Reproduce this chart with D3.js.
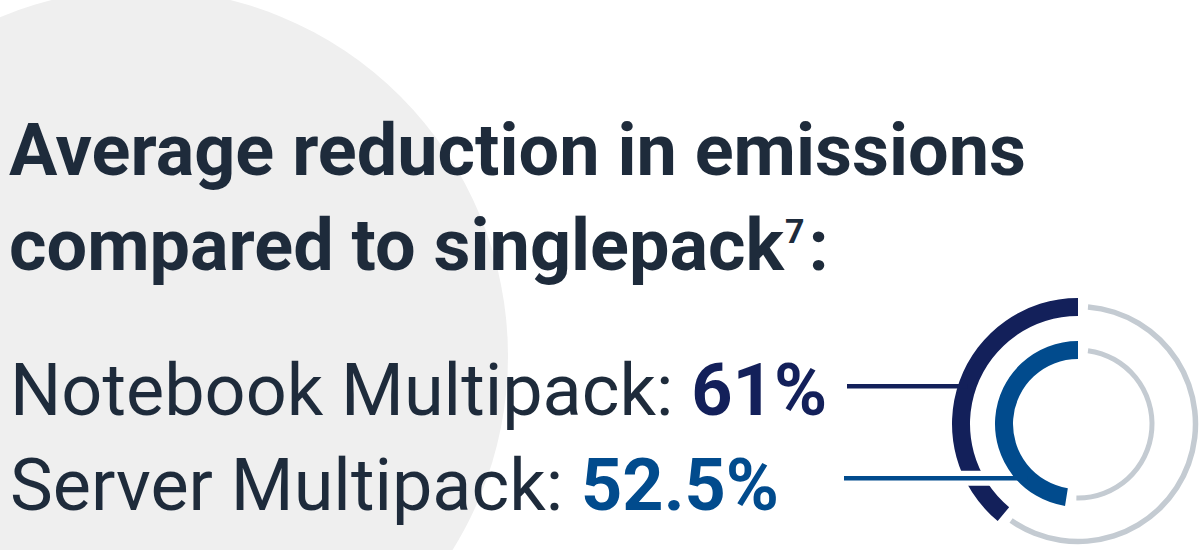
<!DOCTYPE html>
<html>
<head>
<meta charset="utf-8">
<script src="https://cdn.jsdelivr.net/npm/d3@7"></script>
<style>
  html, body { margin: 0; padding: 0; background: #ffffff; overflow: hidden; }
  svg { display: block; font-family: Roboto, "Noto Sans", sans-serif; }
</style>
</head>
<body>
<svg id="chart" width="1201" height="550"></svg>
<script>
// ---- data ----
const titleLines = ["Average reduction in emissions", "compared to singlepack"];
const footnoteMark = "7";
const titleEnd = ":";
const categories = ["Notebook Multipack", "Server Multipack"];
const values = [61, 52.5];
const valueLabels = ["61%", "52.5%"];

// ---- styles ----
const textColor = "#1e2b3b";
const valueColors = ["#13205a", "#014b8d"];
const trackColor = "#c4cbd2";
const bgCircleColor = "#efefef";

const svg = d3.select("#chart");

// background circle
svg.append("circle")
  .attr("cx", 141).attr("cy", 356).attr("r", 367)
  .attr("fill", bgCircleColor);

// title
const title = svg.append("g").attr("font-weight", 700).attr("font-size", 72).attr("fill", textColor);
title.append("text").attr("x", 9).attr("y", 175).text(titleLines[0]);
const t2 = title.append("text").attr("x", 9).attr("y", 270);
t2.append("tspan").text(titleLines[1]);
t2.append("tspan").attr("font-size", 34).attr("dy", -27).attr("dx", 1).text(footnoteMark);
t2.append("tspan").attr("dy", 27).attr("dx", 4).text(titleEnd);

// category lines
const baselines = [415, 510];
categories.forEach((c, i) => {
  const t = svg.append("text").attr("x", 10).attr("y", baselines[i])
    .attr("font-size", 72).attr("fill", textColor);
  t.append("tspan").attr("font-weight", 400).text(c + ": ");
  t.append("tspan").attr("font-weight", 700).attr("fill", valueColors[i]).text(valueLabels[i]);
});

// rings
const cx = 1078, cy = 424;
const ang = d3.scaleLinear().domain([0, 100]).range([0, 2 * Math.PI]);
const rings = [
  { inner: 108, outer: 126, tInner: 114.75, tOuter: 120.25 },
  { inner: 65, outer: 83, tInner: 71.5, tOuter: 76.5 }
];
const gapPx = 10;
const arc = d3.arc();
const g = svg.append("g").attr("transform", `translate(${cx},${cy})`);

const lineY = [386.3, 478.3];
const lineX0 = [847, 844];

// outer ring: track + coloured arc
values.forEach((v, i) => {
  const r = rings[i];
  const span = ang(100 - v);
  const gap = gapPx / ((r.tInner + r.tOuter) / 2);
  g.append("path")
    .attr("d", arc({ innerRadius: r.tInner, outerRadius: r.tOuter, startAngle: gap, endAngle: 2 * Math.PI - span - gap }))
    .attr("fill", trackColor);
  if (i === 0) {
    g.append("path")
      .attr("d", arc({ innerRadius: r.inner, outerRadius: r.outer, startAngle: -span, endAngle: 0 }))
      .attr("fill", valueColors[i]);
  }
});

// white halo where the server line crosses the outer ring
g.append("line")
  .attr("x1", -130).attr("x2", -88)
  .attr("y1", lineY[1] - cy).attr("y2", lineY[1] - cy)
  .attr("stroke", "#ffffff").attr("stroke-width", 15);

values.forEach((v, i) => {
  const r = rings[i];
  const span = ang(100 - v);
  if (i === 1) {
    g.append("path")
      .attr("d", arc({ innerRadius: r.inner, outerRadius: r.outer, startAngle: -span, endAngle: 0 }))
      .attr("fill", valueColors[i]);
  }
  const dy = lineY[i] - cy;
  const rm = (r.inner + r.outer) / 2;
  const xEnd = -Math.sqrt(rm * rm - dy * dy);
  g.append("line")
    .attr("x1", lineX0[i] - cx).attr("x2", xEnd)
    .attr("y1", dy).attr("y2", dy)
    .attr("stroke", valueColors[i]).attr("stroke-width", 4.5);
});
</script>
</body>
</html>
